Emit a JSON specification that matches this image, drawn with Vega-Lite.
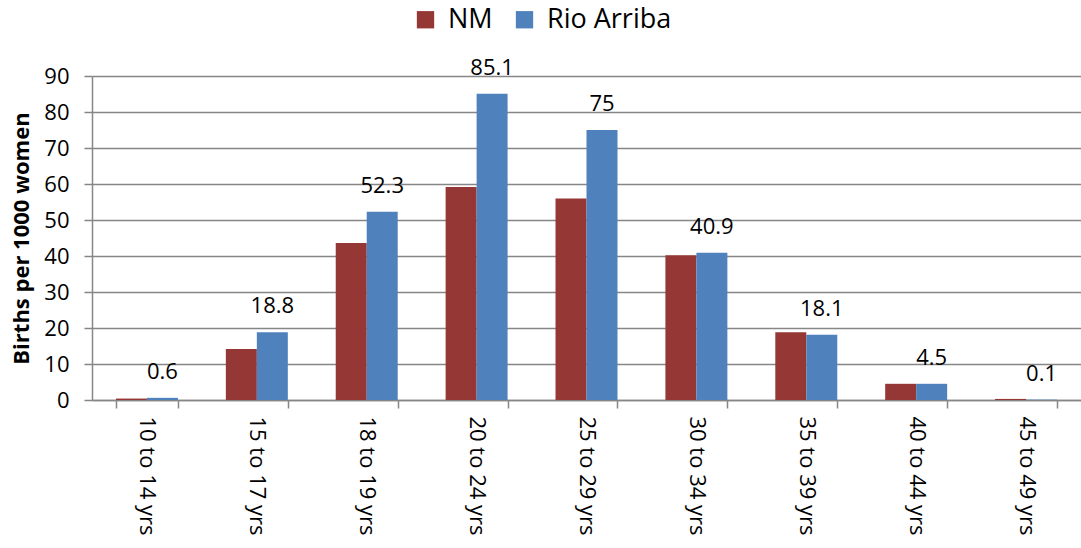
{
  "$schema": "https://vega.github.io/schema/vega-lite/v6.json",
  "width": 989,
  "height": 324,
  "autosize": {"type": "none"},
  "padding": {"left": 92, "top": 76, "right": 0, "bottom": 148},
  "background": "white",
  "config": {
    "font": "Open Sans",
    "view": {"stroke": null}
  },
  "data": {
    "values": [
      {"age": "10 to 14 yrs", "area": "NM", "rate": 0.4},
      {"age": "10 to 14 yrs", "area": "Rio Arriba", "rate": 0.6},
      {"age": "15 to 17 yrs", "area": "NM", "rate": 14.2},
      {"age": "15 to 17 yrs", "area": "Rio Arriba", "rate": 18.8},
      {"age": "18 to 19 yrs", "area": "NM", "rate": 43.6},
      {"age": "18 to 19 yrs", "area": "Rio Arriba", "rate": 52.3},
      {"age": "20 to 24 yrs", "area": "NM", "rate": 59.2},
      {"age": "20 to 24 yrs", "area": "Rio Arriba", "rate": 85.1},
      {"age": "25 to 29 yrs", "area": "NM", "rate": 56.0},
      {"age": "25 to 29 yrs", "area": "Rio Arriba", "rate": 75},
      {"age": "30 to 34 yrs", "area": "NM", "rate": 40.2},
      {"age": "30 to 34 yrs", "area": "Rio Arriba", "rate": 40.9},
      {"age": "35 to 39 yrs", "area": "NM", "rate": 18.8},
      {"age": "35 to 39 yrs", "area": "Rio Arriba", "rate": 18.1},
      {"age": "40 to 44 yrs", "area": "NM", "rate": 4.5},
      {"age": "40 to 44 yrs", "area": "Rio Arriba", "rate": 4.5},
      {"age": "45 to 49 yrs", "area": "NM", "rate": 0.3},
      {"age": "45 to 49 yrs", "area": "Rio Arriba", "rate": 0.1}
    ]
  },
  "encoding": {
    "x": {
      "field": "age",
      "type": "nominal",
      "sort": null,
      "scale": {"paddingInner": 0.436, "paddingOuter": 0.218},
      "axis": {
        "title": null,
        "labelAngle": 90,
        "labelAlign": "left",
        "labelBaseline": "middle",
        "labelFontSize": 22,
        "labelColor": "#000000",
        "labelPadding": 8,
        "labelLimit": 1000,
        "labelOverlap": false,
        "tickBand": "extent",
        "tickSize": 8,
        "tickColor": "#868686",
        "domainColor": "#868686",
        "domainWidth": 1.5,
        "tickWidth": 1.5,
        "grid": false
      }
    },
    "y": {
      "field": "rate",
      "type": "quantitative",
      "scale": {"domain": [0, 90], "nice": false},
      "axis": {
        "title": "Births per 1000 women",
        "titleFontSize": 22,
        "titleFontWeight": "bold",
        "titleColor": "#000000",
        "titlePadding": 10,
        "values": [0, 10, 20, 30, 40, 50, 60, 70, 80, 90],
        "labelFontSize": 22,
        "labelColor": "#000000",
        "labelPadding": 15,
        "tickSize": 8,
        "tickColor": "#868686",
        "tickWidth": 1.5,
        "domainColor": "#868686",
        "domainWidth": 1.5,
        "gridColor": "#868686",
        "gridWidth": 1.5
      }
    }
  },
  "layer": [
    {
      "mark": {"type": "bar"},
      "encoding": {
        "xOffset": {"field": "area", "type": "nominal"},
        "color": {
          "field": "area",
          "type": "nominal",
          "scale": {"domain": ["NM", "Rio Arriba"], "range": ["#953735", "#4F81BD"]},
          "legend": {
            "title": null,
            "orient": "none",
            "direction": "horizontal",
            "legendX": 320,
            "legendY": -70,
            "symbolType": "square",
            "symbolSize": 300,
            "symbolStrokeWidth": 0,
            "labelFontSize": 27,
            "labelColor": "#000000",
            "labelOffset": 9,
            "columnPadding": 18
          }
        }
      }
    },
    {
      "transform": [{"filter": "datum.area === 'Rio Arriba'"}],
      "mark": {"type": "text", "baseline": "alphabetic", "dy": -19, "fontSize": 22, "color": "#000000"},
      "encoding": {
        "xOffset": {"datum": "Rio Arriba", "scale": {"domain": ["NM", "Rio Arriba"]}},
        "text": {"field": "rate", "type": "quantitative"}
      }
    }
  ]
}
